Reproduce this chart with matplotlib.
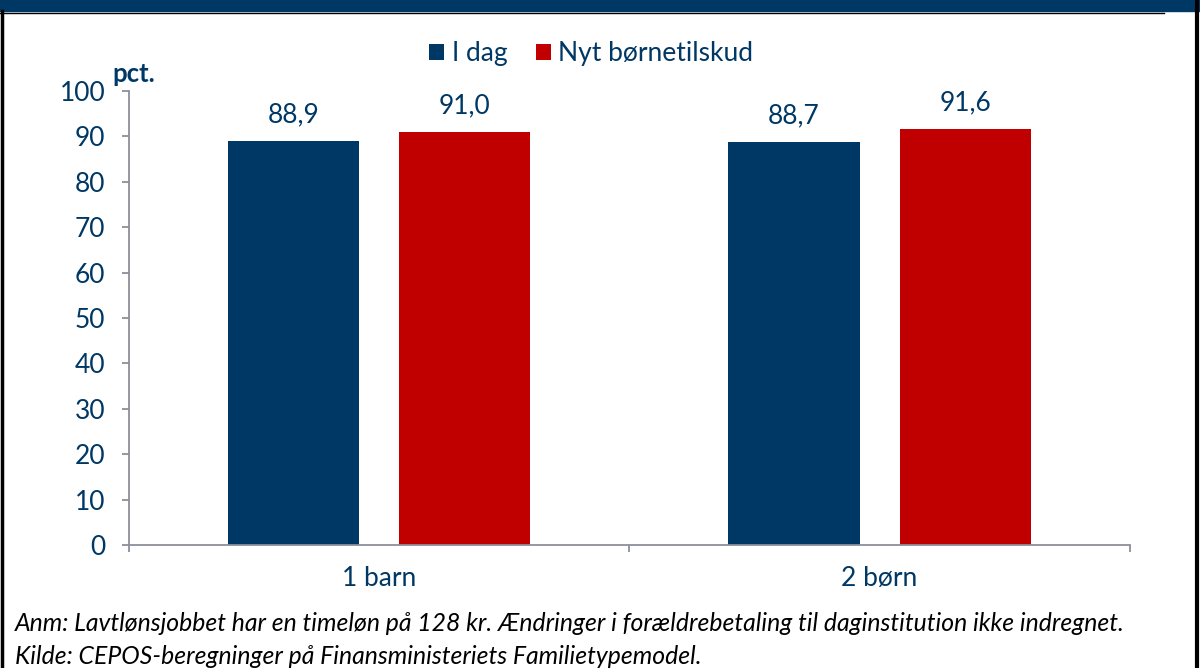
import matplotlib.pyplot as plt
import numpy as np
from matplotlib.patches import Rectangle
from matplotlib.lines import Line2D

categories = ['1 barn', '2 børn']
series_names = ['I dag', 'Nyt børnetilskud']
i_dag = [88.9, 88.7]
nyt = [91.0, 91.6]
yticks = [0, 10, 20, 30, 40, 50, 60, 70, 80, 90, 100]

navy = '#003865'
red = '#C00000'
grey = '#8C8F9C'

plt.rcParams['font.family'] = ['Lato', 'DejaVu Sans']

fig = plt.figure(figsize=(12, 6.68), dpi=100)
ax = fig.add_axes([0.1075, 0.1841, 0.834, 0.6797])

x = np.arange(len(categories))
w = 0.262
off = 0.171
b1 = ax.bar(x - off, i_dag, w, color=navy, label=series_names[0])
b2 = ax.bar(x + off, nyt, w, color=red, label=series_names[1])

for bars, vals in ((b1, i_dag), (b2, nyt)):
    for r, v in zip(bars, vals):
        ax.annotate(f'{v:.1f}'.replace('.', ','),
                    (r.get_x() + r.get_width() / 2, v),
                    xytext=(0, 10), textcoords='offset points',
                    ha='center', va='bottom', color=navy, fontsize=19)

ax.set_xlim(-0.5, 1.5)
ax.set_ylim(0, 100)
ax.set_yticks(yticks)
ax.set_xticks(x)
ax.set_xticklabels(categories)
ax.set_xticks([-0.5, 0.5, 1.5], minor=True)

for s in ('top', 'right'):
    ax.spines[s].set_visible(False)
for s in ('left', 'bottom'):
    ax.spines[s].set_color(grey)
    ax.spines[s].set_linewidth(1.3)

ax.tick_params(axis='y', colors=grey, labelcolor=navy, labelsize=19,
               length=5, width=1.3, pad=12)
ax.tick_params(axis='x', which='major', length=0, labelcolor=navy,
               labelsize=19, pad=15)
ax.tick_params(axis='x', which='minor', colors=grey, length=5, width=1.3)

ax.text(-0.017, 1.01, 'pct.', transform=ax.transAxes, fontsize=18.5,
        fontweight='bold', color=navy, ha='left', va='bottom')

ax.legend(loc='center', bbox_to_anchor=(0.462, 1.082), ncol=2,
          frameon=False, fontsize=19, handlelength=0.57, handleheight=0.57,
          handletextpad=0.27, columnspacing=1.1, labelcolor=navy)

fig.text(0.0125, 0.067, 'Anm: Lavtlønsjobbet har en timeløn på 128 kr. '
         'Ændringer i forældrebetaling til daginstitution ikke indregnet.',
         fontsize=17.8, style='italic', color='black', ha='left', va='center')
fig.text(0.0125, 0.017, 'Kilde: CEPOS-beregninger på Finansministeriets '
         'Familietypemodel.', fontsize=17.8, style='italic', color='black',
         ha='left', va='center')

# header band and frame
fig.patches.append(Rectangle((0, 1 - 11 / 668), 1, 11 / 668,
                             transform=fig.transFigure, color=navy, zorder=0))
fig.lines.append(Line2D([0, 0.97], [1 - 12.5 / 668] * 2,
                        transform=fig.transFigure, color='black', lw=1))
fig.lines.append(Line2D([0.0015, 0.0015], [0, 1 - 11 / 668],
                        transform=fig.transFigure, color='black', lw=2.5))
fig.lines.append(Line2D([0.9975, 0.9975], [0, 1],
                        transform=fig.transFigure, color='black', lw=3))

fig.savefig('out.png', dpi=100)
